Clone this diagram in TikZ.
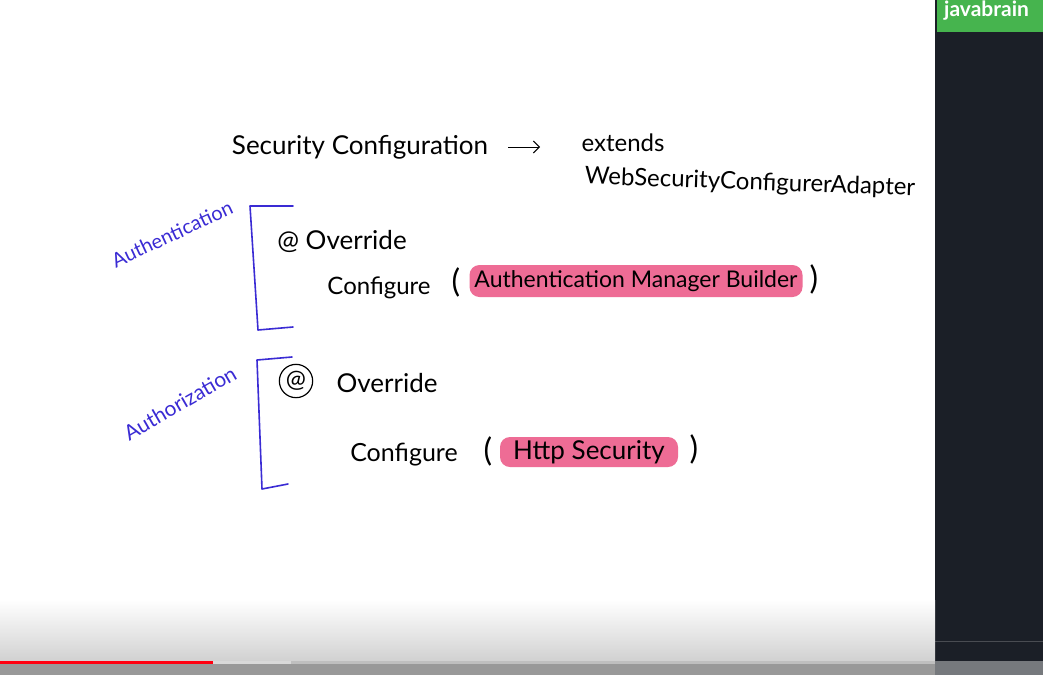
\documentclass[tikz,border=0pt]{standalone}
\usepackage{fontspec}
\setmainfont{Lato}
\usetikzlibrary{arrows.meta}
\definecolor{panel}{HTML}{1B1F27}
\definecolor{jgreen}{HTML}{46B44E}
\definecolor{pen}{HTML}{3A2BD4}
\definecolor{hl}{HTML}{EE6C95}
\definecolor{barred}{HTML}{FF0010}
\tikzset{
  hand/.style={font=\fontsize{24}{26}\selectfont, text=black, inner sep=0pt},
  blue label/.style={font=\fontsize{20}{22}\selectfont, text=pen, inner sep=0pt},
  bracket/.style={draw=pen, line width=1.6pt, line join=round, line cap=round},
  highlight/.style={fill=hl, rounded corners=10pt, inner sep=0pt},
  paren/.style={font=\fontsize{32}{34}\selectfont, inner sep=0pt},
}
\begin{document}
\begin{tikzpicture}[x=1pt,y=-1pt]
\useasboundingbox (0,0) rectangle (1043,675);
\fill[white] (0,0) rectangle (1043,675);
% right dark panel
\fill[panel] (935,0) rectangle (1043,675);
\fill[jgreen] (937,0) rectangle (1043,32);
\node[anchor=west, text=white, font=\bfseries\fontsize{21}{22}\selectfont, inner sep=0pt] (jb) at (944,11) {javabrain};
\draw[white!20!panel, line width=0.6pt] (935,641) -- (1043,641);
% bottom gradient
\shade[top color=white, bottom color=white!82!black] (0,600) rectangle (935,661);
\fill[white!60!black] (0,661) rectangle (935,675);
\fill[white!40!panel] (935,661) rectangle (1043,675);
\fill[white!75!black] (0,661) rectangle (935,664);
\fill[white!85!black] (213,661) rectangle (291,664);
\fill[barred] (0,661) rectangle (213,664);
% header line
\node[hand, font=\fontsize{26}{28}\selectfont] (sc) at (360,147) {Security Configuration};
\node[hand] (ext) at (623,143) {extends};
\coordinate (a1) at (508,147);
\coordinate (a2) at (540,147);
\draw[-{Straight Barb[length=6pt]}, line width=1pt] (a1) -- (a2);
\node[hand, rotate=-2] (wsca) at (750,183) {WebSecurityConfigurerAdapter};
% authentication block
\node[blue label, rotate=25] (authn) at (172,234) {Authentication};
\coordinate (b1a) at (293,206);
\coordinate (b1b) at (250,206);
\coordinate (b1c) at (258,330);
\coordinate (b1d) at (293,327);
\draw[bracket] (b1a) -- (b1b) -- (b1c) -- (b1d);
\node[hand, font=\fontsize{26}{28}\selectfont] (ov1) at (342,241) {@ Override};
\node[hand] (cf1) at (379,288) {Configure};
\node[paren] (lp1) at (456,282) {(};
\node[highlight, minimum width=333pt, minimum height=32pt, font=\fontsize{23}{25}\selectfont] (amb) at (636,281) {Authentication Manager Builder};
\node[paren] (rp1) at (814,279) {)};
% authorization block
\node[blue label, rotate=30, font=\fontsize{21}{23}\selectfont] (authz) at (180,403) {Authorization};
\coordinate (b2a) at (292,357);
\coordinate (b2b) at (257,360);
\coordinate (b2c) at (262,489);
\coordinate (b2d) at (288,484);
\draw[bracket] (b2a) -- (b2b) -- (b2c) -- (b2d);
\node[hand, circle, draw, line width=1.2pt, inner sep=2pt] (at2) at (296,381) {@};
\node[hand, font=\fontsize{26}{28}\selectfont] (ov2) at (387,383) {Override};
\node[hand, font=\fontsize{25}{27}\selectfont] (cf2) at (404,455) {Configure};
\node[paren] (lp2) at (488,451) {(};
\node[highlight, minimum width=178pt, minimum height=30pt, font=\fontsize{26}{28}\selectfont] (hs) at (589,452) {Http Security};
\node[paren] (rp2) at (694,449) {)};
\end{tikzpicture}
\end{document}
